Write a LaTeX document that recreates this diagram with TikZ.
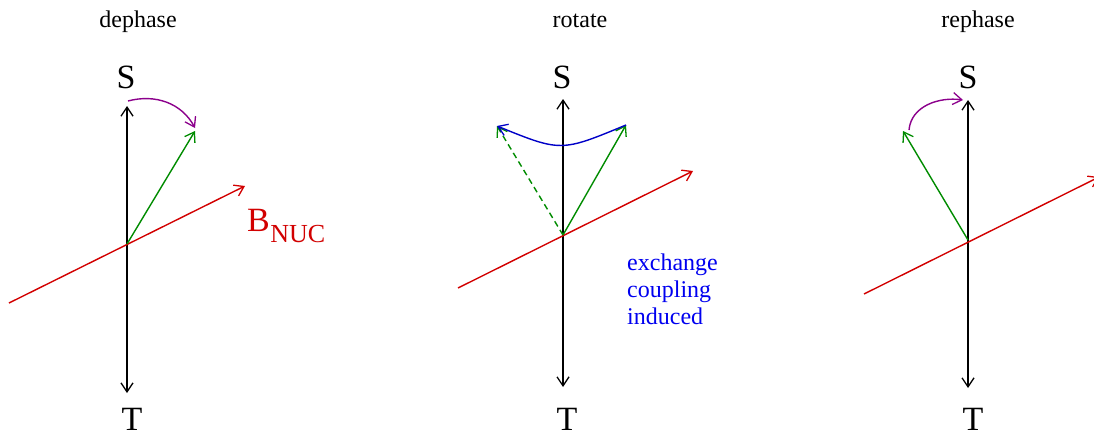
\documentclass[tikz,border=0pt]{standalone}
\usepackage{fontspec}
\setmainfont{Liberation Serif}
\usetikzlibrary{arrows.meta}
\definecolor{myred}{RGB}{210,0,0}
\definecolor{mygreen}{RGB}{0,140,0}
\definecolor{mypurple}{RGB}{140,0,140}
\definecolor{myblue}{RGB}{0,0,200}
\definecolor{txtblue}{RGB}{0,0,240}
\tikzset{
  tip/.style={-{Straight Barb[length=9pt,width=12pt,line width=1.3pt]}},
  dtip/.style={{Straight Barb[length=9pt,width=12pt,line width=1.3pt]}-{Straight Barb[length=9pt,width=12pt,line width=1.3pt]}},
  axis/.style={dtip, line width=1.4pt, black},
  field/.style={tip, line width=1.4pt, myred},
  spin/.style={tip, line width=1.4pt, mygreen},
  turn/.style={tip, line width=1.4pt, mypurple},
  lab/.style={font=\fontsize{34}{40}\selectfont, inner sep=0pt, anchor=base},
  title/.style={font=\fontsize{24}{28}\selectfont, inner sep=0pt, anchor=base},
}
\begin{document}
\begin{tikzpicture}[x=1pt,y=-1pt]
\clip (0,0) rectangle (1094,434);
\fill[white] (0,0) rectangle (1094,434);

% ---------- panel 1: dephase ----------
\node[title] (t1) at (138,27) {dephase};
\node[lab] (S1) at (126,88) {S};
\node[lab] (T1) at (132,430) {T};
\coordinate (a1top) at (127,106);
\coordinate (a1bot) at (127,393);
\coordinate (c1) at (127,244);
\coordinate (r1a) at (9,303);
\coordinate (r1b) at (245,186);
\coordinate (g1) at (195,131);
\coordinate (p1a) at (128,101);
\coordinate (p1b) at (195,128);
\draw[axis] (a1bot) -- (a1top);
\draw[field] (r1a) -- (r1b);
\draw[spin] (c1) -- (g1);
\draw[turn] (p1a) to[out=15,in=118] (p1b);
\node[font=\fontsize{34}{40}\selectfont, inner sep=0pt, anchor=base west, text=myred] (B1) at (247,231) {B};
\node[font=\fontsize{26}{30}\selectfont, inner sep=0pt, anchor=base west, text=myred] (N1) at (B1.base east) [yshift=-11pt] {NUC};

% ---------- panel 2: rotate ----------
\node[title] (t2) at (580,27) {rotate};
\node[lab] (S2) at (562,88) {S};
\node[lab] (T2) at (567,430) {T};
\coordinate (a2top) at (563,99);
\coordinate (a2bot) at (563,387);
\coordinate (c2) at (563,235);
\coordinate (r2a) at (458,288);
\coordinate (r2b) at (693,171);
\coordinate (g2) at (626,125);
\coordinate (g2d) at (497,126);
\draw[axis] (a2bot) -- (a2top);
\draw[field] (r2a) -- (r2b);
\draw[spin] (c2) -- (g2);
\draw[spin, dash pattern=on 6pt off 4pt] (c2) -- (g2d);
\draw[tip, line width=1.4pt, myblue] (g2) .. controls (561,152) .. (g2d);
\node[font=\fontsize{24}{27}\selectfont, text=txtblue, inner sep=0pt, anchor=base west, align=left] (ex) at (627,324)
  {exchange\\coupling\\induced};

% ---------- panel 3: rephase ----------
\node[title] (t3) at (978,27) {rephase};
\node[lab] (S3) at (968,88) {S};
\node[lab] (T3) at (973,430) {T};
\coordinate (a3top) at (968,100);
\coordinate (a3bot) at (968,388);
\coordinate (c3) at (968,240);
\coordinate (r3a) at (864,294);
\coordinate (r3b) at (1099,177);
\coordinate (g3) at (903,131);
\coordinate (p3a) at (909,130);
\coordinate (p3b) at (963,100);
\draw[axis] (a3bot) -- (a3top);
\draw[field] (r3a) -- (r3b);
\draw[spin] (c3) -- (g3);
\draw[turn] (p3a) to[out=85,in=172] (p3b);
\end{tikzpicture}
\end{document}
